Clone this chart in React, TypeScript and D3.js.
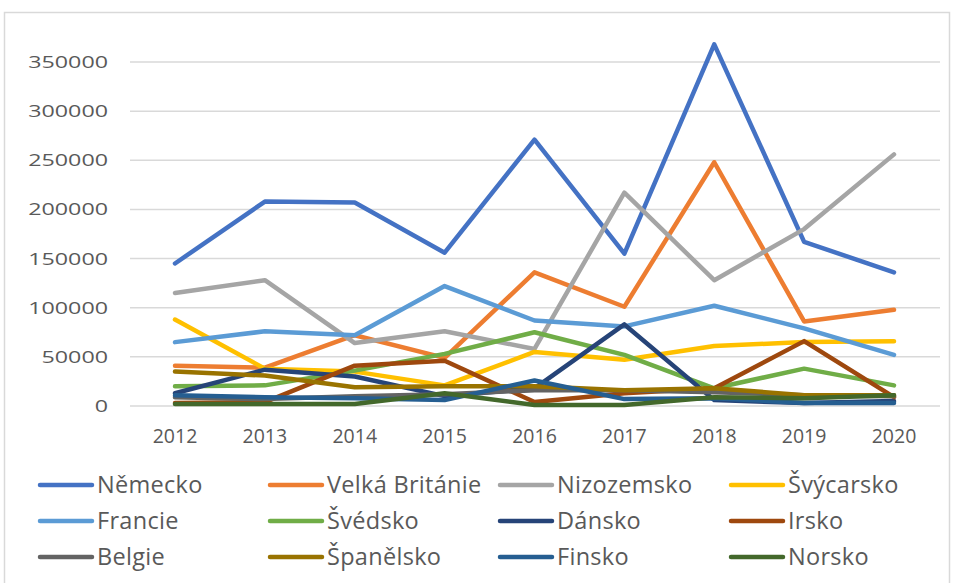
import React from 'react';
import * as d3 from 'd3';

const years = ['2012', '2013', '2014', '2015', '2016', '2017', '2018', '2019', '2020'];
const yTicks = [0, 50000, 100000, 150000, 200000, 250000, 300000, 350000];

const nemecko = [145000, 208000, 207000, 156000, 271000, 155000, 368000, 167000, 136000];
const velkaBritanie = [41000, 39000, 72000, 49000, 136000, 101000, 248000, 86000, 98000];
const nizozemsko = [115000, 128000, 64000, 76000, 58000, 217000, 128000, 180000, 256000];
const svycarsko = [88000, 38000, 35000, 21000, 55000, 47000, 61000, 65000, 66000];
const francie = [65000, 76000, 72000, 122000, 87000, 81000, 102000, 79000, 52000];
const svedsko = [20000, 21000, 36000, 53000, 75000, 52000, 18000, 38000, 21000];
const dansko = [13000, 37000, 30000, 10000, 18000, 83000, 6000, 3000, 5000];
const irsko = [3000, 4000, 41000, 46000, 4000, 13000, 18000, 66000, 9000];
const belgie = [9000, 7000, 10000, 12000, 16000, 16000, 14000, 11000, 10000];
const spanelsko = [35000, 31000, 19000, 20000, 20000, 16000, 18000, 11000, 11000];
const finsko = [11000, 9000, 8000, 6000, 26000, 7000, 8000, 3000, 3000];
const norsko = [2000, 2000, 2000, 13000, 1000, 1000, 9000, 8000, 11000];

const series = [
  { name: 'Německo', color: '#4472C4', values: nemecko },
  { name: 'Velká Británie', color: '#ED7D31', values: velkaBritanie },
  { name: 'Nizozemsko', color: '#A5A5A5', values: nizozemsko },
  { name: 'Švýcarsko', color: '#FFC000', values: svycarsko },
  { name: 'Francie', color: '#5B9BD5', values: francie },
  { name: 'Švédsko', color: '#70AD47', values: svedsko },
  { name: 'Dánsko', color: '#264478', values: dansko },
  { name: 'Irsko', color: '#9E480E', values: irsko },
  { name: 'Belgie', color: '#636363', values: belgie },
  { name: 'Španělsko', color: '#997300', values: spanelsko },
  { name: 'Finsko', color: '#255E91', values: finsko },
  { name: 'Norsko', color: '#43682B', values: norsko },
];

const W = 955;
const H = 583;
const plot = { left: 130, right: 940, top: 62, bottom: 406 };
const font = '"Open Sans", "Noto Sans", sans-serif';

export default function App() {
  const x = d3.scalePoint<string>().domain(years).range([175, 894]);
  const y = d3.scaleLinear().domain([0, 350000]).range([plot.bottom, plot.top]);

  const line = d3.line<number>()
    .x((_, i) => x(years[i]) as number)
    .y(d => y(d));

  const legendCols = [40, 270, 500, 731];
  const legendRows = [485, 521, 557];

  return (
    <svg width={W} height={H} style={{ position: 'absolute', left: 0, top: 0 }}>
      <rect x={0} y={0} width={W} height={H} fill="#fff" />
      <rect x={4.5} y={12.5} width={945} height={600} fill="none" stroke="#D9D9D9" strokeWidth={1.5} />

      {yTicks.map(t => (
        <g key={t}>
          <line x1={plot.left} x2={plot.right} y1={y(t)} y2={y(t)} stroke="#D9D9D9" strokeWidth={1.5} />
          <text
            x={108}
            y={y(t)}
            dy="0.36em"
            textAnchor="end"
            fontFamily={font}
            fontSize={16.5}
            fill="#595959"
            textLength={String(t).length * 13.3}
            lengthAdjust="spacingAndGlyphs"
          >
            {t}
          </text>
        </g>
      ))}

      {years.map(yr => (
        <text key={yr} x={x(yr)} y={443} textAnchor="middle" fontFamily={font} fontSize={19.5} fill="#595959">
          {yr}
        </text>
      ))}

      {series.map(s => (
        <path
          key={s.name}
          d={line(s.values) || ''}
          fill="none"
          stroke={s.color}
          strokeWidth={4.5}
          strokeLinejoin="round"
          strokeLinecap="round"
        />
      ))}

      {series.map((s, i) => {
        const lx = legendCols[i % 4];
        const ly = legendRows[Math.floor(i / 4)];
        return (
          <g key={s.name}>
            <line x1={lx} x2={lx + 52} y1={ly} y2={ly} stroke={s.color} strokeWidth={4.5} strokeLinecap="round" />
            <text x={lx + 57} y={ly} dy="0.36em" fontFamily={font} fontSize={23.5} fill="#595959" letterSpacing={0.3}>
              {s.name}
            </text>
          </g>
        );
      })}
    </svg>
  );
}
